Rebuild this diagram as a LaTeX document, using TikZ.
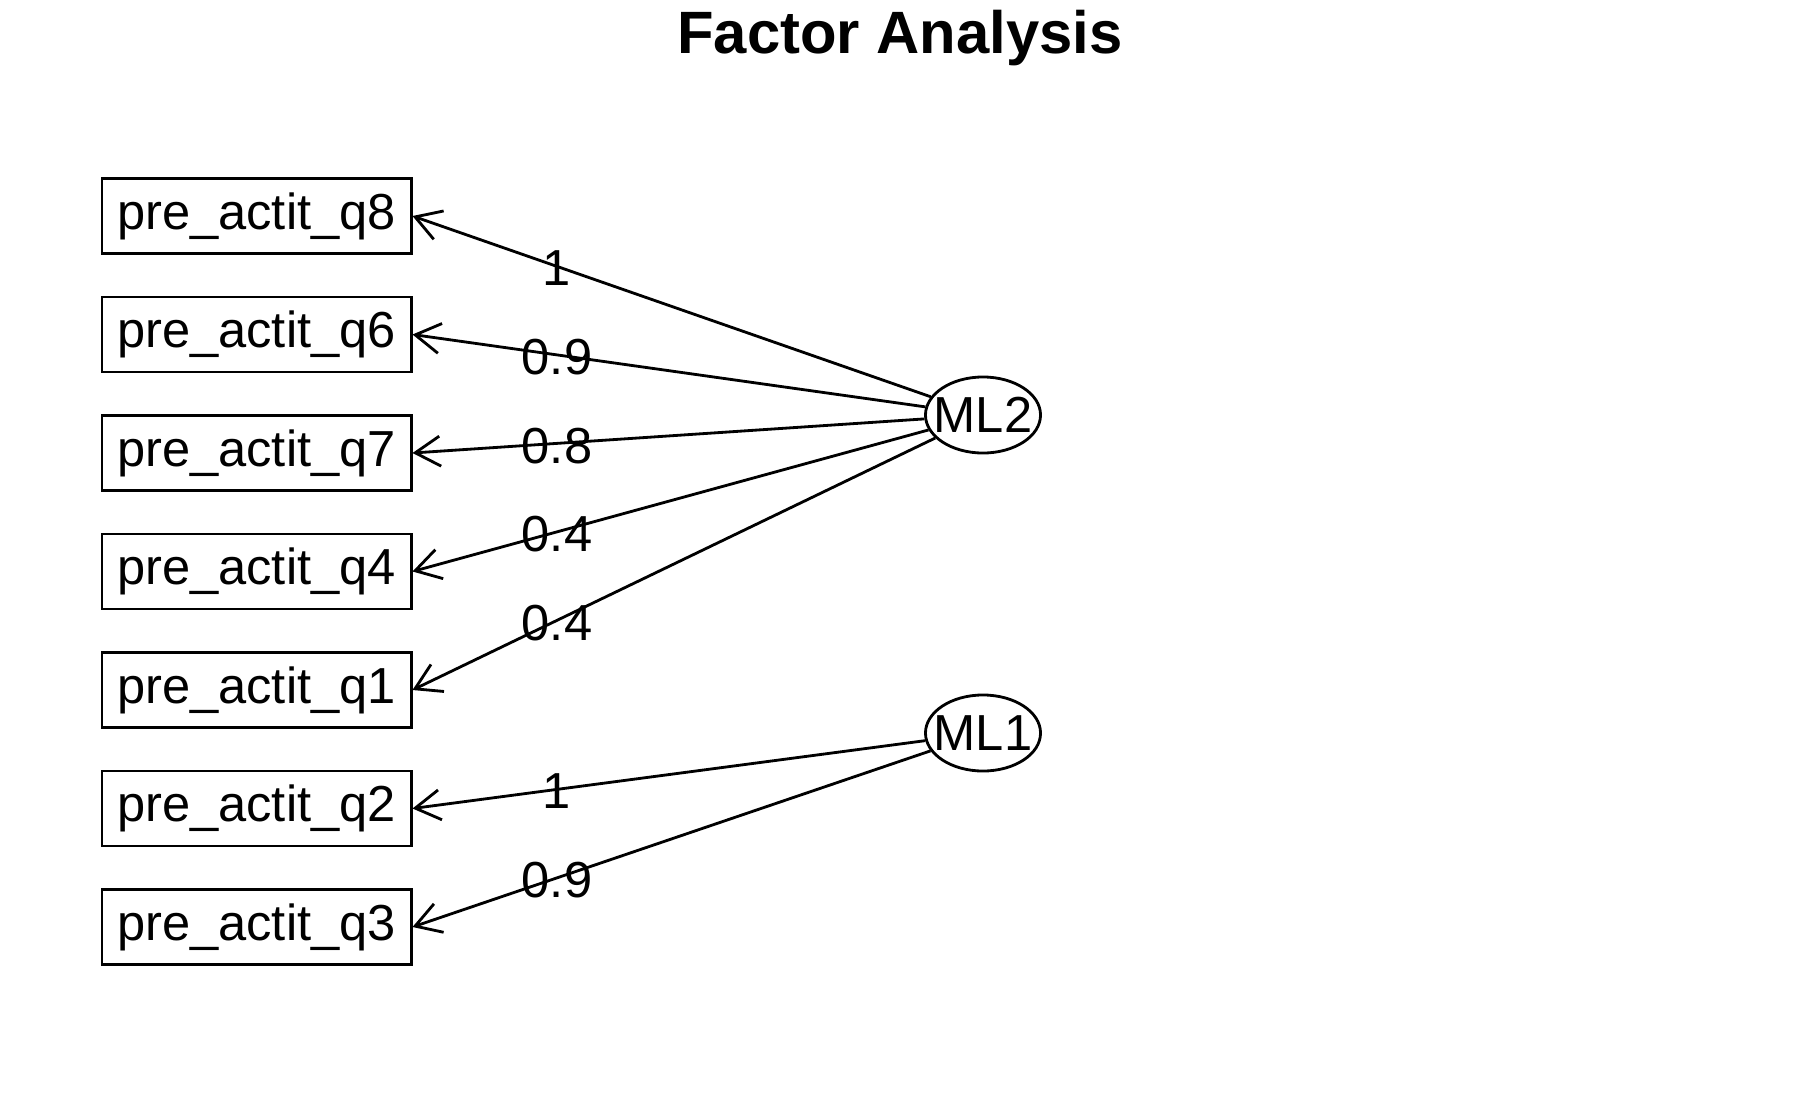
\documentclass[tikz,border=0pt]{standalone}
\usepackage{fontspec}
\setmainfont{Liberation Sans}
\usetikzlibrary{shapes.geometric,arrows.meta}
\begin{document}
\begin{tikzpicture}[x=0.01cm,y=-0.01cm,
  every node/.style={font=\fontsize{14.4}{17}\selectfont},
  obs/.style={draw, line width=0.8pt, minimum width=3.09cm, minimum height=0.75cm, inner sep=0pt},
  lat/.style={draw, ellipse, line width=0.8pt, minimum width=1.15cm, minimum height=0.76cm, inner sep=0pt},
  loadlabel/.style={inner sep=0pt},
  loadarrow/.style={line width=0.8pt, {Straight Barb[length=0.25cm,width=0.30cm]}-},
]
\useasboundingbox (0,0) rectangle (1800,1112);

\node[font=\fontsize{17}{20}\selectfont\bfseries, anchor=base] (title) at (900,54) {Factor Analysis};

\node[obs] (q8) at (256.5,216)   {pre\_actit\_q8};
\node[obs] (q6) at (256.5,334.5) {pre\_actit\_q6};
\node[obs] (q7) at (256.5,453)   {pre\_actit\_q7};
\node[obs] (q4) at (256.5,571.5) {pre\_actit\_q4};
\node[obs] (q1) at (256.5,690)   {pre\_actit\_q1};
\node[obs] (q2) at (256.5,808.5) {pre\_actit\_q2};
\node[obs] (q3) at (256.5,927)   {pre\_actit\_q3};

\node[lat] (ML2) at (983,415) {\makebox[0pt]{ML2}};
\node[lat] (ML1) at (983,733) {\makebox[0pt]{ML1}};

\draw[loadarrow] (q8.east) -- (ML2);
\draw[loadarrow] (q6.east) -- (ML2);
\draw[loadarrow] (q7.east) -- (ML2);
\draw[loadarrow] (q4.east) -- (ML2);
\draw[loadarrow] (q1.east) -- (ML2);
\draw[loadarrow] (q2.east) -- (ML1);
\draw[loadarrow] (q3.east) -- (ML1);

\node[loadlabel] (l8) at (557,268.5) {1};
\node[loadlabel] (l6) at (557,357) {0.9};
\node[loadlabel] (l7) at (557,446) {0.8};
\node[loadlabel] (l4) at (557,534.5) {0.4};
\node[loadlabel] (l1) at (557,623) {0.4};
\node[loadlabel] (l2) at (557,791.5) {1};
\node[loadlabel] (l3) at (557,880) {0.9};
\end{tikzpicture}
\end{document}
